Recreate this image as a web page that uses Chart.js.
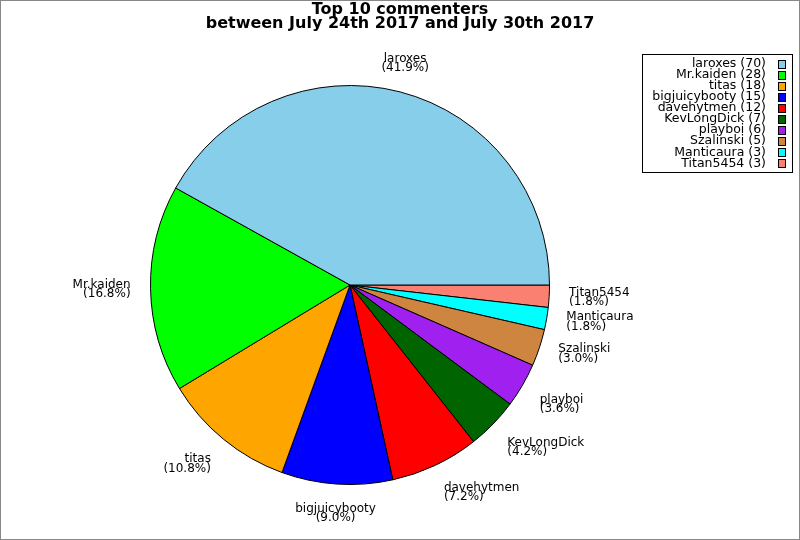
<!DOCTYPE html>
<html>
<head>
<meta charset="utf-8">
<script src="https://cdn.jsdelivr.net/npm/chart.js@4"></script>
<style>
  body { margin: 0; background: #fff; }
  canvas { display: block; }
</style>
</head>
<body>
<canvas id="pieChart" width="800" height="540"></canvas>
<script>
const commenters = ['laroxes', 'Mr.kaiden', 'titas', 'bigjuicybooty', 'davehytmen',
  'KevLongDick', 'playboi', 'Szalinski', 'Manticaura', 'Titan5454'];
const commentCounts = [70, 28, 18, 15, 12, 7, 6, 5, 3, 3];
const sliceColors = ['#87ceeb', '#00ff00', '#ffa500', '#0000ff', '#ff0000',
  '#006400', '#a020f0', '#cd853f', '#00ffff', '#fa8072'];
const titleLines = ['Top 10 commenters', 'between July 24th 2017 and July 30th 2017'];

// slices run counter-clockwise from 3 o'clock, chart.js draws clockwise -> reverse
const pieData = {
  labels: commenters.slice().reverse(),
  datasets: [{
    data: commentCounts.slice().reverse(),
    backgroundColor: sliceColors.slice().reverse(),
    borderColor: '#000',
    borderWidth: 1
  }]
};

const LH = 9.5; // label line height

const pieText = {
  id: 'pieText',
  beforeDraw(chart) {
    const ctx = chart.ctx;
    ctx.save();
    ctx.fillStyle = '#fff';
    ctx.fillRect(0, 0, chart.width, chart.height);
    ctx.strokeStyle = '#888';
    ctx.lineWidth = 1;
    ctx.strokeRect(0.5, 0.5, chart.width - 1, chart.height - 1);
    ctx.restore();
  },
  afterDatasetsDraw(chart) {
    const ctx = chart.ctx;
    const meta = chart.getDatasetMeta(0);
    const data = chart.data.datasets[0].data;
    const total = data.reduce((a, b) => a + b, 0);
    ctx.save();
    ctx.font = '12px "DejaVu Sans"';
    ctx.fillStyle = '#000';
    ctx.textBaseline = 'middle';
    meta.data.forEach((arc, i) => {
      const p = arc.getProps(['x', 'y', 'startAngle', 'endAngle', 'outerRadius'], true);
      const mid = (p.startAngle + p.endAngle) / 2;
      const c = Math.cos(mid), s = Math.sin(mid);
      const ax = p.x + 1.1 * p.outerRadius * c;
      const ay = p.y + 1.1 * p.outerRadius * s;
      const lines = [chart.data.labels[i], '(' + (data[i] / total * 100).toFixed(1) + '%)'];
      ctx.textAlign = Math.abs(c) < 0.3 ? 'center' : (c > 0 ? 'left' : 'right');
      let y0;
      if (Math.abs(s) < 0.4) y0 = ay - LH / 2;
      else if (s < 0) y0 = ay - LH - 4.5;
      else y0 = ay + 4.5;
      lines.forEach((t, k) => ctx.fillText(t, ax, y0 + k * LH));
    });

    // title
    ctx.font = 'bold 16px "DejaVu Sans"';
    ctx.textAlign = 'center';
    ctx.fillText(titleLines[0], 400, 10);
    ctx.fillText(titleLines[1], 400, 24);

    // legend box
    ctx.fillStyle = '#fff';
    ctx.fillRect(642, 54, 151, 119);
    ctx.strokeStyle = '#000';
    ctx.lineWidth = 1;
    ctx.strokeRect(642.5, 54.5, 150, 118);
    ctx.font = '12.5px "DejaVu Sans"';
    ctx.textAlign = 'right';
    commenters.forEach((name, i) => {
      const yc = 63.5 + i * 11.1;
      ctx.fillStyle = '#000';
      ctx.fillText(name + ' (' + commentCounts[i] + ')', 766, yc);
      const ys = Math.round(yc - 4) + 0.5;
      ctx.fillStyle = sliceColors[i];
      ctx.fillRect(778.5, ys, 7, 8);
      ctx.strokeRect(778.5, ys, 7, 8);
    });
    ctx.restore();
  }
};

const pieConfig = {
  type: 'pie',
  data: pieData,
  options: {
    responsive: false,
    animation: false,
    devicePixelRatio: 1,
    rotation: 90,
    layout: {
      padding: { left: 150, right: 250, top: 85, bottom: 55 }
    },
    plugins: {
      legend: { display: false },
      title: { display: false },
      tooltip: { enabled: false }
    }
  },
  plugins: [pieText]
};

const pieChart = new Chart(document.getElementById('pieChart'), pieConfig);
</script>
</body>
</html>
